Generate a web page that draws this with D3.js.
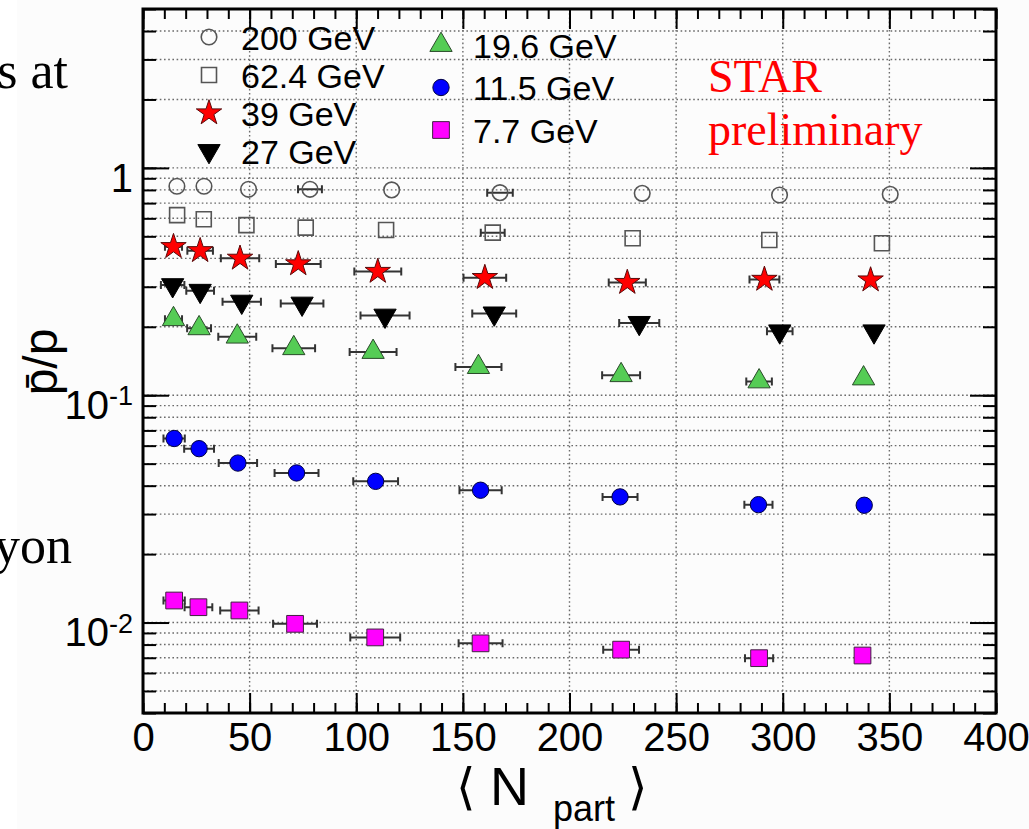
<!DOCTYPE html>
<html>
<head>
<meta charset="utf-8">
<script src="https://cdn.jsdelivr.net/npm/d3@7"></script>
<style>
  body { margin: 0; background: #fff; }
  svg { display: block; }
</style>
</head>
<body>
<div id="chart"></div>
<script>
// beam energies (legend order)
const energies = ["200 GeV", "62.4 GeV", "39 GeV", "27 GeV", "19.6 GeV", "11.5 GeV", "7.7 GeV"];

// <Npart> per centrality bin (70-80% ... 0-5%)
const npart200 = [15.9, 28.6, 49.5, 78.3, 116.6, 167.4, 234.1, 298.5, 350.4];
const npart62 = [16.0, 28.5, 48.5, 76.3, 114.0, 164.0, 229.6, 293.7, 346.5];
const npart39 = [14.3, 26.8, 45.5, 72.8, 110.1, 160.3, 227.1, 291.4, 341.2];
const npart27 = [13.9, 26.8, 46.3, 74.6, 113.5, 164.7, 232.7, 298.6, 342.8];
const npart19 = [14.3, 26.3, 44.2, 70.7, 107.9, 157.3, 224.2, 288.9, 337.9];
const npart11 = [14.6, 26.3, 44.5, 72.0, 109.1, 158.3, 223.7, 288.6, 338.2];
const npart7 = [14.6, 26.0, 45.2, 71.3, 108.9, 158.3, 224.2, 288.9, 337.4];

// pbar/p ratio
const ratio200 = [0.83, 0.83, 0.805, 0.805, 0.80, 0.778, 0.773, 0.76, 0.765];
const ratio62 = [0.62, 0.594, 0.56, 0.546, 0.533, 0.519, 0.49, 0.482, 0.466];
const ratio39 = [0.45, 0.432, 0.40, 0.378, 0.35, 0.329, 0.313, 0.323, 0.321];
const ratio27 = [0.305, 0.288, 0.258, 0.253, 0.224, 0.229, 0.208, 0.191, 0.191];
const ratio19 = [0.216, 0.197, 0.181, 0.161, 0.155, 0.133, 0.1225, 0.115, 0.1185];
const ratio11 = [0.0645, 0.0582, 0.0503, 0.0455, 0.0418, 0.0382, 0.0357, 0.033, 0.0328];
const ratio7 = [0.0125, 0.01168, 0.0113, 0.00987, 0.0086, 0.0081, 0.0076, 0.00697, 0.00716];

// <Npart> uncertainties (horizontal bars)
const nerr200 = [1, 1, 1.5, 5.6, 3, 6, 3, 3, 3];
const nerr62 = [2, 2, 2, 3, 3, 5.6, 3, 3, 3];
const nerr39 = [4, 6, 9, 10.5, 11, 10, 8.7, 7, 2];
const nerr27 = [5.5, 6.5, 9, 10, 11.5, 10.3, 9.4, 6, 2];
const nerr19 = [4, 5.6, 8.9, 10, 11, 10.8, 8.9, 6, 2];
const nerr11 = [5, 7, 9, 10.3, 10.5, 9.9, 8.2, 6.6, 2];
const nerr7 = [5, 6.5, 9, 10.3, 11.7, 10.3, 8.4, 6.6, 2];

const xTicksMajor = [0, 50, 100, 150, 200, 250, 300, 350, 400];

const W = 1029, H = 829;
const SANS = "'Liberation Sans', Arial, Helvetica, sans-serif";
const SERIF = "'Liberation Serif', 'Times New Roman', serif";

// marker styles, same order as energies
const styles = [
    { type: d3.symbolCircle, size: 190, fill: "none", stroke: "#555", sw: 1.6, rot: 0 },
    { type: d3.symbolSquare, size: 225, fill: "none", stroke: "#555", sw: 1.6, rot: 0 },
    { type: d3.symbolStar, size: 200, fill: "#ff0000", stroke: "#5a0a0a", sw: 1, rot: 0 },
    { type: d3.symbolTriangle, size: 215, fill: "#000", stroke: "#000", sw: 1, rot: 180 },
    { type: d3.symbolTriangle, size: 215, fill: "#55cc55", stroke: "#2a4a2a", sw: 1, rot: 0 },
    { type: d3.symbolCircle, size: 210, fill: "#0000ff", stroke: "#000040", sw: 1, rot: 0 },
    { type: d3.symbolSquare, size: 280, fill: "#ff00ff", stroke: "#402040", sw: 1, rot: 0 }
];

const npartAll = [npart200, npart62, npart39, npart27, npart19, npart11, npart7];
const ratioAll = [ratio200, ratio62, ratio39, ratio27, ratio19, ratio11, ratio7];
const nerrAll = [nerr200, nerr62, nerr39, nerr27, nerr19, nerr11, nerr7];

const series = energies.map((name, i) => ({
    name: name,
    style: styles[i],
    points: npartAll[i].map((n, j) => ({ n: n, r: ratioAll[i][j], e: nerrAll[i][j] }))
}));

const svg = d3.select("#chart").append("svg").attr("width", W).attr("height", H);

svg.append("rect").attr("width", W).attr("height", H).attr("fill", "#fff");
svg.append("rect").attr("x", 17).attr("width", W - 17).attr("height", H).attr("fill", "#fcfcfc");

// bits of the slide text, cut off on the left as in the slide
svg.append("text").attr("x", 68).attr("y", 88).attr("text-anchor", "end")
    .style("font-family", SERIF).style("font-size", "52px").text("s at");
svg.append("text").attr("x", 72).attr("y", 563).attr("text-anchor", "end")
    .style("font-family", SERIF).style("font-size", "52px").text("yon");

const x = d3.scaleLinear().domain([0, 400]).range([143, 996]);
const y = d3.scaleLog().domain([0.004, 5]).range([713, 9]);

const yTicksAll = y.ticks();
const yTicksMajor = yTicksAll.filter(d => Math.abs(Math.log10(d) - Math.round(Math.log10(d))) < 1e-9);

// dotted grid
const grid = svg.append("g").attr("stroke", "#6a6a6a").attr("stroke-width", 1.4)
    .attr("stroke-dasharray", "1.6,2.6");
grid.selectAll(".gh").data(yTicksAll).join("line").attr("class", "gh")
    .attr("x1", x(0)).attr("x2", x(400)).attr("y1", d => y(d)).attr("y2", d => y(d));
grid.selectAll(".gv").data(xTicksMajor.slice(1, -1)).join("line").attr("class", "gv")
    .attr("x1", d => x(d)).attr("x2", d => x(d)).attr("y1", y(5)).attr("y2", y(0.004));

const styleAxis = g => {
    g.select(".domain").remove();
    g.selectAll(".tick line").attr("stroke", "#000").attr("stroke-width", 2);
    g.attr("font-family", SANS).attr("font-size", 40);
    g.selectAll(".tick text").attr("fill", "#000");
};

// x axes
svg.append("g").attr("transform", `translate(0,${y(0.004)})`)
    .call(d3.axisBottom(x).tickValues(d3.range(0, 401, 10)).tickSize(-10).tickFormat(""))
    .call(styleAxis);
svg.append("g").attr("transform", `translate(0,${y(0.004)})`)
    .call(d3.axisBottom(x).tickValues(xTicksMajor).tickSize(-20).tickPadding(10).tickFormat(d3.format("d")))
    .call(styleAxis);
svg.append("g").attr("transform", `translate(0,${y(5)})`)
    .call(d3.axisTop(x).tickValues(d3.range(0, 401, 10)).tickSize(-10).tickFormat(""))
    .call(styleAxis);
svg.append("g").attr("transform", `translate(0,${y(5)})`)
    .call(d3.axisTop(x).tickValues(xTicksMajor).tickSize(-20).tickFormat(""))
    .call(styleAxis);

// y axes
svg.append("g").attr("transform", `translate(${x(0)},0)`)
    .call(d3.axisLeft(y).tickValues(yTicksAll).tickSize(-13).tickFormat(""))
    .call(styleAxis);
const yLab = svg.append("g").attr("transform", `translate(${x(0)},0)`)
    .call(d3.axisLeft(y).tickValues(yTicksMajor).tickSize(-26).tickPadding(10).tickFormat(d => d === 1 ? "1" : "10"))
    .call(styleAxis);
yLab.selectAll(".tick text").attr("dy", "0.58em")
    .each(function (d) {
        if (d === 1) return;
        d3.select(this).append("tspan").attr("dy", "-0.5em").attr("font-size", 27)
            .text(String(Math.round(Math.log10(d))));
    });
svg.append("g").attr("transform", `translate(${x(400)},0)`)
    .call(d3.axisRight(y).tickValues(yTicksAll).tickSize(-13).tickFormat(""))
    .call(styleAxis);
svg.append("g").attr("transform", `translate(${x(400)},0)`)
    .call(d3.axisRight(y).tickValues(yTicksMajor).tickSize(-26).tickFormat(""))
    .call(styleAxis);

// frame
svg.append("rect").attr("x", x(0)).attr("y", y(5))
    .attr("width", x(400) - x(0)).attr("height", y(0.004) - y(5))
    .attr("fill", "none").attr("stroke", "#000").attr("stroke-width", 3);

// data
const symbolPath = s => d3.symbol().type(s.type).size(s.size)();

series.forEach(s => {
    const g = svg.append("g");
    const bars = g.append("g").attr("stroke", "#333").attr("stroke-width", 2);
    bars.selectAll(".eb").data(s.points.filter(p => x(p.n + p.e) - x(p.n) > 7)).join("path").attr("class", "eb")
        .attr("fill", "none")
        .attr("d", p => {
            const x1 = x(p.n - p.e), x2 = x(p.n + p.e), yy = y(p.r);
            return `M${x1},${yy}H${x2}M${x1},${yy - 4}V${yy + 4}M${x2},${yy - 4}V${yy + 4}`;
        });
    g.selectAll(".mk").data(s.points).join("path").attr("class", "mk")
        .attr("d", symbolPath(s.style))
        .attr("transform", p => `translate(${x(p.n)},${y(p.r)}) rotate(${s.style.rot})`)
        .attr("fill", s.style.fill).attr("stroke", s.style.stroke).attr("stroke-width", s.style.sw);
});

// legend
const legend = svg.append("g");
series.forEach((s, i) => {
    const col = i < 4 ? 0 : 1;
    const row = i < 4 ? i : i - 4;
    const mx = col === 0 ? 209 : 441;
    const my = col === 0 ? 37 + row * 38 : 45 + row * 42.5;
    legend.append("path").attr("d", symbolPath(s.style))
        .attr("transform", `translate(${mx},${my}) rotate(${s.style.rot})`)
        .attr("fill", s.style.fill).attr("stroke", s.style.stroke).attr("stroke-width", s.style.sw);
    legend.append("text").attr("x", mx + 32).attr("y", my + 12.5)
        .style("font-family", SANS).style("font-size", "34px").attr("fill", "#000").text(s.name);
});

// STAR preliminary
svg.append("text").attr("x", 708).attr("y", 92).attr("fill", "#ff0000")
    .style("font-family", SERIF).style("font-size", "46px").text("STAR");
svg.append("text").attr("x", 708).attr("y", 145).attr("fill", "#ff0000")
    .style("font-family", SERIF).style("font-size", "46px").text("preliminary");

// axis titles
svg.append("text").attr("transform", "translate(57,362) rotate(-90)").attr("text-anchor", "middle")
    .style("font-family", SANS).style("font-size", "48px").text("p\u0304/p");

const xt = svg.append("g").style("font-family", SANS);
xt.append("text").attr("x", 456).attr("y", 804).style("font-family", "'DejaVu Sans', sans-serif")
    .style("font-size", "50px").text("\u27E8");
xt.append("text").attr("x", 490).attr("y", 805).style("font-size", "54px").text("N");
xt.append("text").attr("x", 553).attr("y", 821).style("font-size", "36px").text("part");
xt.append("text").attr("x", 628).attr("y", 804).style("font-family", "'DejaVu Sans', sans-serif")
    .style("font-size", "50px").text("\u27E9");
</script>
</body>
</html>
